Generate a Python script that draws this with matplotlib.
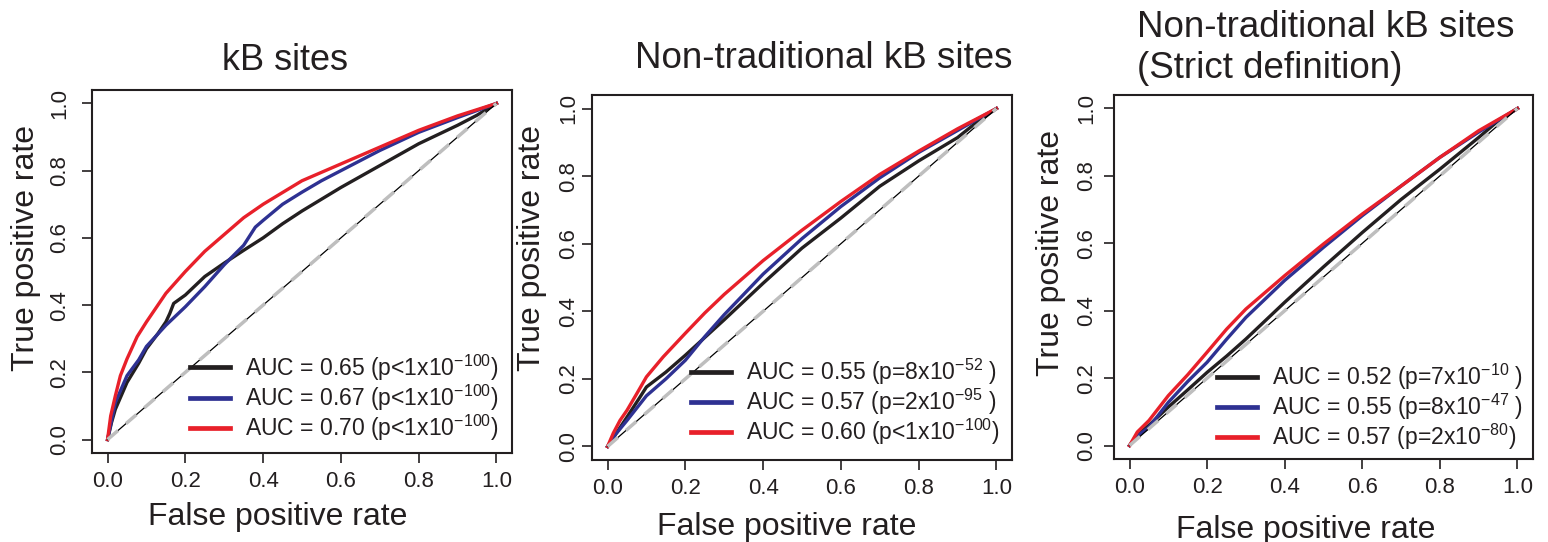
import matplotlib
matplotlib.use("Agg")
import matplotlib.pyplot as plt

plt.rcParams['font.family'] = ['Liberation Sans', 'DejaVu Sans']
plt.rcParams['mathtext.fontset'] = 'custom'
plt.rcParams['mathtext.rm'] = 'Liberation Sans'
plt.rcParams['mathtext.it'] = 'Liberation Sans:italic'

# ROC curves: (false positive rate, true positive rate)
kb_fpr_black = [0, 0.01, 0.02, 0.05, 0.08, 0.1, 0.13, 0.15, 0.16, 0.17, 0.2, 0.25, 0.3, 0.35, 0.4, 0.45, 0.5, 0.6, 0.7, 0.8, 0.9, 0.95, 1.0]
kb_tpr_black = [0, 0.05, 0.09, 0.17, 0.227, 0.27, 0.316, 0.35, 0.375, 0.405, 0.43, 0.485, 0.525, 0.563, 0.60, 0.642, 0.68, 0.75, 0.815, 0.88, 0.935, 0.965, 1.0]
kb_fpr_blue = [0, 0.02, 0.05, 0.08, 0.1, 0.15, 0.2, 0.25, 0.3, 0.35, 0.38, 0.4, 0.45, 0.5, 0.55, 0.6, 0.7, 0.8, 0.9, 1.0]
kb_tpr_blue = [0, 0.11, 0.19, 0.237, 0.277, 0.34, 0.395, 0.455, 0.52, 0.578, 0.632, 0.652, 0.70, 0.736, 0.77, 0.80, 0.86, 0.914, 0.958, 1.0]
kb_fpr_red = [0, 0.008, 0.02, 0.033, 0.05, 0.076, 0.1, 0.15, 0.2, 0.25, 0.3, 0.35, 0.4, 0.5, 0.6, 0.7, 0.8, 0.9, 1.0]
kb_tpr_red = [0, 0.07, 0.13, 0.19, 0.24, 0.306, 0.35, 0.435, 0.50, 0.56, 0.61, 0.66, 0.70, 0.77, 0.82, 0.87, 0.92, 0.963, 1.0]

nt_fpr_black = [0, 0.02, 0.05, 0.08, 0.1, 0.15, 0.2, 0.3, 0.4, 0.5, 0.6, 0.7, 0.8, 0.9, 0.95, 1.0]
nt_tpr_black = [0, 0.035, 0.087, 0.14, 0.176, 0.22, 0.27, 0.375, 0.483, 0.587, 0.676, 0.77, 0.845, 0.914, 0.96, 1.0]
nt_fpr_blue = [0, 0.02, 0.05, 0.1, 0.15, 0.2, 0.25, 0.3, 0.4, 0.5, 0.6, 0.7, 0.8, 0.9, 0.95, 1.0]
nt_tpr_blue = [0, 0.035, 0.077, 0.15, 0.2, 0.255, 0.325, 0.39, 0.51, 0.615, 0.71, 0.795, 0.87, 0.935, 0.968, 1.0]
nt_fpr_red = [0, 0.015, 0.032, 0.05, 0.075, 0.1, 0.143, 0.2, 0.25, 0.3, 0.4, 0.5, 0.6, 0.7, 0.8, 0.9, 0.95, 1.0]
nt_tpr_red = [0, 0.04, 0.077, 0.107, 0.156, 0.206, 0.265, 0.335, 0.395, 0.45, 0.55, 0.64, 0.725, 0.805, 0.874, 0.94, 0.97, 1.0]

st_fpr = [0, 0.02, 0.05, 0.1, 0.15, 0.2, 0.25, 0.3, 0.4, 0.5, 0.6, 0.7, 0.8, 0.9, 0.95, 1.0]
st_tpr_black = [0, 0.03, 0.06, 0.114, 0.165, 0.217, 0.265, 0.316, 0.425, 0.53, 0.632, 0.73, 0.82, 0.914, 0.963, 1.0]
st_tpr_blue = [0, 0.028, 0.054, 0.128, 0.19, 0.247, 0.315, 0.38, 0.49, 0.588, 0.682, 0.77, 0.855, 0.93, 0.965, 1.0]
st_tpr_red = [0, 0.04, 0.074, 0.148, 0.21, 0.277, 0.345, 0.405, 0.504, 0.598, 0.687, 0.77, 0.855, 0.934, 0.967, 1.0]

kb_labels = [r'AUC = 0.65 (p<1x10$^{\mathregular{-100}}$)',
             r'AUC = 0.67 (p<1x10$^{\mathregular{-100}}$)',
             r'AUC = 0.70 (p<1x10$^{\mathregular{-100}}$)']
nt_labels = [r'AUC = 0.55 (p=8x10$^{\mathregular{-52}}$ )',
             r'AUC = 0.57 (p=2x10$^{\mathregular{-95}}$ )',
             r'AUC = 0.60 (p<1x10$^{\mathregular{-100}}$)']
st_labels = [r'AUC = 0.52 (p=7x10$^{\mathregular{-10}}$ )',
             r'AUC = 0.55 (p=8x10$^{\mathregular{-47}}$ )',
             r'AUC = 0.57 (p=2x10$^{\mathregular{-80}}$)']

colors = ['#231F20', '#2E3192', '#E8202A']
ticks = [0.0, 0.2, 0.4, 0.6, 0.8, 1.0]
tick_labels = ['0.0', '0.2', '0.4', '0.6', '0.8', '1.0']

W, H = 1548, 542
fig = plt.figure(figsize=(W / 100, H / 100), dpi=100)


def px_axes(left, top, right, bottom):
    return fig.add_axes([left / W, 1 - bottom / H, (right - left) / W, (bottom - top) / H])


def roc_panel(ax, curves, labels, leg_xy, ypad):
    for (x, y), c, lab in zip(curves, colors, labels):
        ax.plot(x, y, color=c, lw=2.4, label=lab, solid_joinstyle='round')
    ax.plot([0, 1], [0, 1], color='black', lw=0.9)
    ax.plot([0, 1], [0, 1], color='#BEBEBE', lw=2.5, dashes=(4, 3))
    ax.set_xlim(-0.04, 1.04)
    ax.set_ylim(-0.04, 1.04)
    ax.set_xticks(ticks, tick_labels)
    ax.set_yticks(ticks, tick_labels)
    ax.tick_params(direction='out', length=7, width=1.2, labelsize=16, colors='#231F20')
    ax.tick_params(axis='x', pad=6)
    ax.tick_params(axis='y', pad=ypad)
    plt.setp(ax.get_yticklabels(), rotation=90, va='center')
    for s in ax.spines.values():
        s.set_linewidth(1.5)
        s.set_color('#231F20')
    leg = ax.legend(loc='lower left', bbox_to_anchor=leg_xy, bbox_transform=ax.transData,
                    frameon=False, fontsize=16.5, handlelength=1.75, handletextpad=0.65,
                    labelspacing=0.0, borderpad=0, borderaxespad=0)
    for h in leg.get_lines():
        h.set_linewidth(3.4)
    for t in leg.get_texts():
        t.set_color('#231F20')


ax1 = px_axes(92, 90, 512, 453)
roc_panel(ax1, [(kb_fpr_black, kb_tpr_black), (kb_fpr_blue, kb_tpr_blue), (kb_fpr_red, kb_tpr_red)],
          kb_labels, (0.213, -0.01), 9)
ax2 = px_axes(592, 95, 1012, 460)
roc_panel(ax2, [(nt_fpr_black, nt_tpr_black), (nt_fpr_blue, nt_tpr_blue), (nt_fpr_red, nt_tpr_red)],
          nt_labels, (0.215, -0.002), 2)
ax3 = px_axes(1114, 95, 1533, 459)
roc_panel(ax3, [(st_fpr, st_tpr_black), (st_fpr, st_tpr_blue), (st_fpr, st_tpr_red)],
          st_labels, (0.225, -0.02), 5)

tc = '#231F20'
# titles
fig.text(285 / W, 1 - 70 / H, 'kB sites', fontsize=26, ha='center', va='baseline', color=tc)
fig.text(824 / W, 1 - 68 / H, 'Non-traditional kB sites', fontsize=26.5, ha='center', va='baseline', color=tc)
fig.text(1137 / W, 1 - 37 / H, 'Non-traditional kB sites', fontsize=26.5, ha='left', va='baseline', color=tc)
fig.text(1137 / W, 1 - 78 / H, '(Strict definition)', fontsize=26.5, ha='left', va='baseline', color=tc)

# axis labels
for xc, yb in [(278, 525), (787, 535), (1306, 538)]:
    fig.text(xc / W, 1 - yb / H, 'False positive rate', fontsize=23, ha='center', va='baseline', color=tc)
for xc, yc in [(26, 248), (532, 248), (1051, 253)]:
    fig.text(xc / W, 1 - yc / H, 'True positive rate', fontsize=23, rotation=90,
             ha='center', va='center', color=tc)

fig.savefig('out.png', dpi=100)
